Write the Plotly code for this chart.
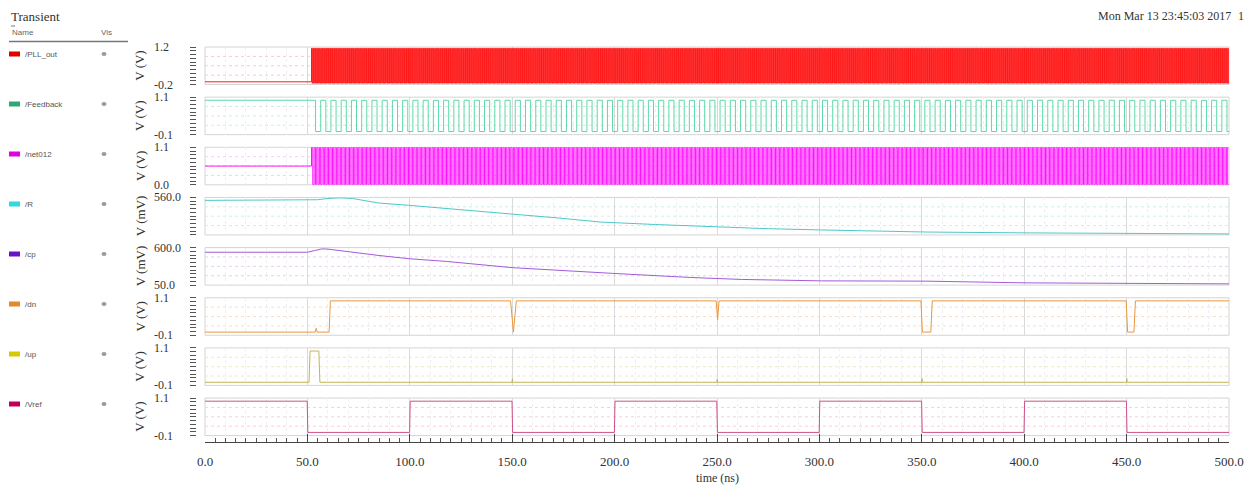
import plotly.graph_objects as go

# ---------------- data ----------------
signal_names = ["/PLL_out", "/Feedback", "/net012", "/R", "/cp", "/dn", "/up", "/Vref"]
axis_units = ["V (V)", "V (V)", "V (V)", "V (mV)", "V (mV)", "V (V)", "V (V)", "V (V)"]
y_ranges = [[-0.2, 1.2], [-0.1, 1.1], [0.0, 1.1], [380.0, 560.0], [50.0, 600.0],
            [-0.1, 1.1], [-0.1, 1.1], [-0.1, 1.1]]
y_tick_values = [[1.2, -0.2], [1.1, -0.1], [1.1, 0.0], [560.0], [600.0, 50.0],
                 [1.1, -0.1], [1.1, -0.1], [1.1, -0.1]]
y_tick_text = [["1.2", "-0.2"], ["1.1", "-0.1"], ["1.1", "0.0"], ["560.0"], ["600.0", "50.0"],
               ["1.1", "-0.1"], ["1.1", "-0.1"], ["1.1", "-0.1"]]
x_tick_values = [0, 50, 100, 150, 200, 250, 300, 350, 400, 450, 500]
x_tick_text = ["0.0", "50.0", "100.0", "150.0", "200.0", "250.0", "300.0", "350.0", "400.0", "450.0", "500.0"]

# clock-like signals (read: start time, period, idle level, swing)
pll_out_start, pll_out_period, pll_out_idle, pll_out_first, pll_out_second = 52.0, 0.64, -0.1, 1.15, -0.15
feedback_start, feedback_period, feedback_idle, feedback_first, feedback_second = 54.0, 5.0, 1.0, 0.0, 1.0
net012_start, net012_period, net012_idle, net012_first, net012_second = 52.0, 1.28, 0.55, 1.1, 0.0

# analog signals (mV)
r_time = [0, 50, 55, 60, 66, 72, 85, 100, 118, 150, 173, 193, 220, 249, 275, 301, 352, 400, 450, 500]
r_mv = [546, 546, 549, 555, 558, 555, 533, 522, 508, 480, 461, 442, 430, 418, 410, 404, 394, 390, 387, 385]
cp_time = [0, 50, 54, 57, 60, 69, 85, 100, 118, 150, 173, 183, 199, 237, 262, 301, 352, 400, 449, 500]
cp_mv = [532, 532, 560, 581, 578, 542, 484, 436, 397, 306, 262, 248, 222, 162, 133, 112, 108, 83, 74, 68]

# digital signals (V)
dn_time = [0, 53.8, 54.3, 54.8, 60.6, 61.2, 149.2, 150.6, 152.0, 249.6, 250.3, 251.0,
           349.6, 350.3, 354.4, 355.1, 449.8, 450.5, 453.6, 454.3, 500]
dn_v = [0, 0, 0.12, 0, 0, 1.0, 1.0, 0.0, 1.0, 1.0, 0.4, 1.0,
        1.0, 0.0, 0.0, 1.0, 1.0, 0.0, 0.0, 1.0, 1.0]
up_time = [0, 50.8, 51.3, 55.6, 56.1, 149.9, 150.1, 150.3, 249.9, 250.1, 250.3,
           349.9, 350.1, 350.3, 449.9, 450.1, 450.3, 500]
up_v = [0, 0, 1.0, 1.0, 0, 0, 0.12, 0, 0, 0.1, 0, 0, 0.12, 0, 0, 0.12, 0, 0]
vref_time = [0, 49.9, 50.2, 99.9, 100.2, 149.9, 150.2, 199.9, 200.2, 249.9, 250.2,
             299.9, 300.2, 349.9, 350.2, 399.9, 400.2, 449.9, 450.2, 500]
vref_v = [1, 1, 0, 0, 1, 1, 0, 0, 1, 1, 0, 0, 1, 1, 0, 0, 1, 1, 0, 0]

swatch_colors = ["#e00000", "#2fa877", "#e000e0", "#30d8e0", "#6a12c8", "#e08a2a", "#d8c800", "#c0005a"]
line_colors = ["#ff1a1a", "#5ed8aa", "#ff10ff", "#4cc8c8", "#a45ad8", "#e8983e", "#c4b458", "#d0508a"]
grid_colors = ["#ffc8c8", "#c8f0e0", "#ffc8ff", "#c8f0f0", "#e4d0f4", "#f8e0c4", "#efe8c0", "#f6d0e0"]


def clock(start, period, idle, first, second, t_end=500.0):
    half = period / 2.0
    t = [0.0]
    v = [idle]
    k = 0
    while start + k * half < t_end:
        t.append(start + k * half)
        v.append(first if k % 2 == 0 else second)
        k += 1
    t.append(t_end)
    v.append(v[-1])
    return t, v


pll_t, pll_v = clock(pll_out_start, pll_out_period, pll_out_idle, pll_out_first, pll_out_second)
fb_t, fb_v = clock(feedback_start, feedback_period, feedback_idle, feedback_first, feedback_second)
net_t, net_v = clock(net012_start, net012_period, net012_idle, net012_first, net012_second)

series = [
    (pll_t, pll_v, "hv"), (fb_t, fb_v, "hv"), (net_t, net_v, "hv"),
    (r_time, r_mv, "linear"), (cp_time, cp_mv, "linear"),
    (dn_time, dn_v, "linear"), (up_time, up_v, "linear"), (vref_time, vref_v, "linear"),
]

# ---------------- layout helpers ----------------
# the page body has an 8px margin, so the figure starts at (8, 8) in the window
OFF = 8
W, H = 1252 - OFF, 492 - OFF
ML, MR = 185 - OFF, 23
PW = W - ML - MR


def px_x(p):
    """window pixel x -> paper coordinate"""
    return (p - OFF - ML) / PW


def px_y(p):
    """window pixel y -> paper coordinate"""
    return 1 - (p - OFF) / H


SERIF = "Liberation Serif"
SANS = "Liberation Sans"

fig = go.Figure()
shapes = []
annotations = []
layout = dict(
    width=W, height=H, autosize=False,
    margin=dict(l=ML, r=MR, t=0, b=0, pad=0),
    paper_bgcolor="white", plot_bgcolor="white",
    showlegend=False,
)

for i in range(8):
    n = i + 1
    top = 47 + 50.15 * i
    bot = top + 37.5
    xa = "x" if n == 1 else f"x{n}"
    ya = "y" if n == 1 else f"y{n}"
    t, v, shape = series[i]
    fig.add_trace(go.Scatter(x=t, y=v, xaxis=xa, yaxis=ya, mode="lines",
                             line=dict(color=line_colors[i], width=1, shape=shape),
                             hoverinfo="skip"))
    lo, hi = y_ranges[i]
    span = hi - lo
    layout["xaxis" if n == 1 else f"xaxis{n}"] = dict(
        domain=[px_x(205), px_x(1229)], anchor=ya, range=[0, 500],
        showticklabels=False, ticks="", zeroline=False, showline=False,
        showgrid=True, tick0=0, dtick=50, gridcolor="#dadada", gridwidth=1,
        minor=dict(dtick=10, showgrid=True, gridcolor="#efefef", griddash="dot"),
        **({} if n == 1 else {"matches": "x"}),
    )
    layout["yaxis" if n == 1 else f"yaxis{n}"] = dict(
        domain=[px_y(bot), px_y(top)], anchor="free", position=px_x(196),
        range=[lo, hi], tickmode="linear", tick0=lo, dtick=span / 10,
        ticks="outside", ticklen=6, tickwidth=1, tickcolor="#555",
        showticklabels=False, showgrid=False, zeroline=False, showline=False,
    )
    # panel frame
    shapes.append(dict(type="rect", xref=f"{xa} domain", yref=f"{ya} domain",
                       x0=0, x1=1, y0=0, y1=1, line=dict(color="#d4d4d4", width=1),
                       layer="below"))
    for f in (0.25, 0.5, 0.75):
        shapes.append(dict(type="line", xref=f"{xa} domain", yref=f"{ya} domain",
                           x0=0, x1=1, y0=f, y1=f,
                           line=dict(color=grid_colors[i], width=1, dash="dot"),
                           layer="below"))
    # y tick labels (left aligned like the reference)
    for val, txt in zip(y_tick_values[i], y_tick_text[i]):
        annotations.append(dict(x=px_x(152), xref="paper", y=val, yref=ya,
                                text=txt, showarrow=False, xanchor="left", yanchor="middle",
                                font=dict(family=SERIF, size=12, color="#333")))
    # y axis title
    annotations.append(dict(x=px_x(140), xref="paper", y=px_y((top + bot) / 2), yref="paper",
                            text=axis_units[i], textangle=-90, showarrow=False,
                            xanchor="center", yanchor="middle",
                            font=dict(family=SERIF, size=13, color="#333")))
    # left legend row
    ry = 54 + 50 * i
    shapes.append(dict(type="rect", xref="paper", yref="paper",
                       x0=px_x(9), x1=px_x(20), y0=px_y(ry + 2.5), y1=px_y(ry - 2.5),
                       fillcolor=swatch_colors[i], line=dict(width=0)))
    annotations.append(dict(x=px_x(23), xref="paper", y=px_y(ry), yref="paper",
                            text=signal_names[i], showarrow=False, xanchor="left", yanchor="middle",
                            font=dict(family=SANS, size=8, color="#555")))
    shapes.append(dict(type="circle", xref="paper", yref="paper",
                       x0=px_x(101.5), x1=px_x(106.5), y0=px_y(ry + 2), y1=px_y(ry - 2),
                       fillcolor="#9a9a9a", line=dict(color="#9a9a9a", width=0)))

# bottom time ruler
fig.add_trace(go.Scatter(x=[0, 500], y=[0.5, 0.5], xaxis="x9", yaxis="y8", mode="lines",
                         line=dict(width=0), opacity=0, hoverinfo="skip"))
layout["xaxis9"] = dict(
    domain=[px_x(205), px_x(1229)], anchor="free", position=px_y(442), overlaying="x8",
    range=[0, 500], tickmode="array", tickvals=x_tick_values, ticktext=x_tick_text,
    ticks="inside", ticklen=8, tickcolor="#444", showline=True, linecolor="#444", linewidth=1,
    showgrid=False, zeroline=False, ticklabelstandoff=7,
    tickfont=dict(family=SERIF, size=13, color="#333"),
    minor=dict(dtick=5, ticks="inside", ticklen=4, tickcolor="#555", showgrid=False),
)

annotations += [
    dict(x=px_x(717), xref="paper", y=px_y(478), yref="paper", text="time (ns)",
         showarrow=False, xanchor="center", yanchor="middle",
         font=dict(family=SERIF, size=12, color="#333")),
    dict(x=px_x(10), xref="paper", y=1, yref="paper", text="Transient",
         showarrow=False, xanchor="left", yanchor="top", borderpad=0,
         font=dict(family=SERIF, size=13, color="#333")),
    dict(x=px_x(1232), xref="paper", y=1, yref="paper", text="Mon Mar 13 23:45:03 2017",
         showarrow=False, xanchor="right", yanchor="top", borderpad=0,
         font=dict(family=SERIF, size=12, color="#333")),
    dict(x=px_x(1245), xref="paper", y=1, yref="paper", text="1",
         showarrow=False, xanchor="right", yanchor="top", borderpad=0,
         font=dict(family=SERIF, size=12, color="#333")),
    dict(x=px_x(10), xref="paper", y=px_y(33), yref="paper", text="Name",
         showarrow=False, xanchor="left", yanchor="middle",
         font=dict(family=SANS, size=8, color="#666")),
    dict(x=px_x(99), xref="paper", y=px_y(33), yref="paper", text="Vis",
         showarrow=False, xanchor="left", yanchor="middle",
         font=dict(family=SANS, size=8, color="#666")),
]
shapes += [
    dict(type="line", xref="paper", yref="paper", x0=px_x(9), x1=px_x(128),
         y0=px_y(41.5), y1=px_y(41.5), line=dict(color="#777", width=1.5)),
    dict(type="line", xref="paper", yref="paper", x0=px_x(11), x1=px_x(15),
         y0=px_y(26), y1=px_y(26), line=dict(color="#777", width=1)),
]

layout["shapes"] = shapes
layout["annotations"] = annotations
fig.update_layout(**layout)
fig.write_html("out.html")
